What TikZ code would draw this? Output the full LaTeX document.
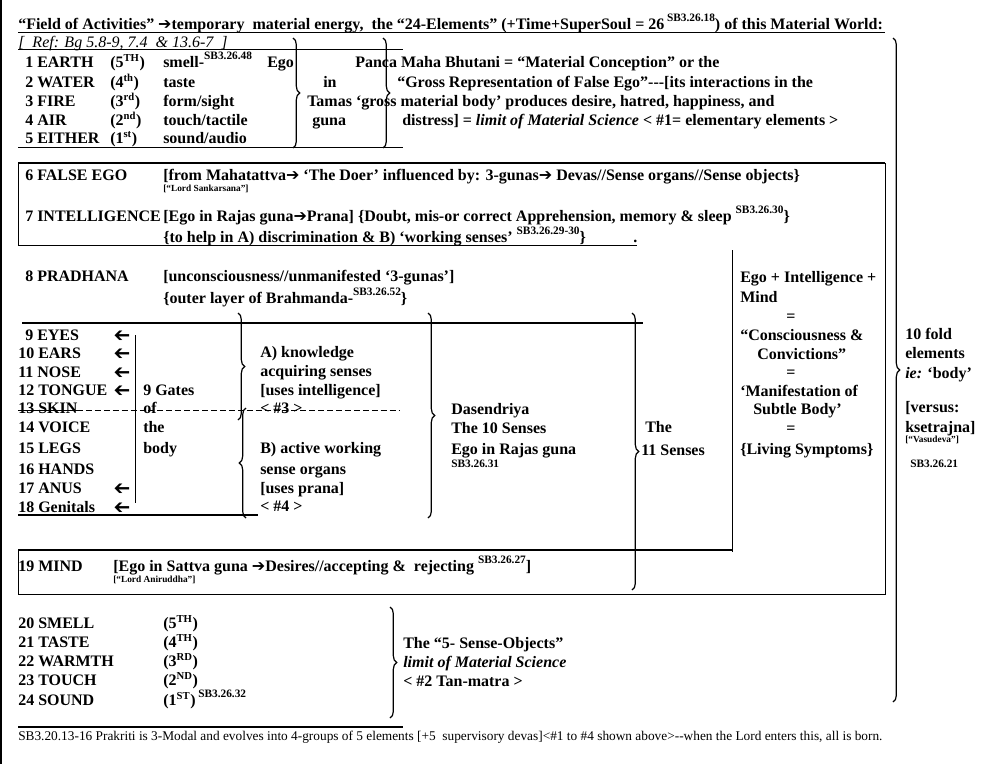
\documentclass[tikz,border=0pt]{standalone}
\usepackage{fontspec}
\setmainfont{Liberation Serif}
\newfontfamily\symfont{DejaVu Sans}
\usetikzlibrary{decorations.pathreplacing}
\newcommand\ar{{\symfont\mdseries ➔}}
\newcommand\sbref[1]{\raisebox{0.5em}{\fontsize{8.5}{9}\selectfont\bfseries #1}}

\tikzset{
  txt/.style={anchor=base west, inner sep=0pt, font=\fontsize{12}{14}\selectfont\bfseries},
  tiny/.style={anchor=base west, inner sep=0pt, font=\fontsize{7}{8}\selectfont\bfseries},
  sbtxt/.style={anchor=base west, inner sep=0pt, font=\fontsize{8.5}{9}\selectfont\bfseries},
  reftxt/.style={anchor=base west, inner sep=0pt, font=\fontsize{12}{14}\selectfont\itshape},
  foot/.style={anchor=base west, inner sep=0pt, font=\fontsize{10}{11}\selectfont},
  larrow/.style={inner sep=0pt, rotate=180, font=\fontsize{15}{16}\selectfont\symfont},
  gbrace/.style={decorate, decoration={brace, amplitude=5pt}, line width=0.9pt},
  rule/.style={line width=0.6pt},
  thickrule/.style={line width=1.4pt}
}

\begin{document}
\begin{tikzpicture}[x=0.75pt, y=-0.75pt]
  \useasboundingbox (0,0) rectangle (983,764);
  \draw[thickrule] (1,0) -- (1,764);

  \node[txt] (title) at (18,29) {“Field of Activities” \ar temporary\ \ material energy,\ \ the “24-Elements” (+Time+SuperSoul = 26\,\sbref{SB3.26.18}) of this Material World:};
  \draw[rule] (18,32) -- (885,32);
  \node[reftxt] (ref) at (18,47) {[\ \ Ref: Bg 5.8-9,\ 7.4\ \ \& 13.6-7\ \ ]};
  \draw[rule] (18,49) -- (403,49);

  \foreach \i/\y/\n/\o/\s in {
      1/67/1 EARTH/(5\textsuperscript{TH})/smell-\sbref{SB3.26.48},
      2/87/2 WATER/(4\textsuperscript{th})/taste,
      3/106/3 FIRE/(3\textsuperscript{rd})/{form/sight},
      4/125/4 AIR/(2\textsuperscript{nd})/{touch/tactile},
      5/143/5 EITHER/(1\textsuperscript{st})/{sound/audio}} {
    \node[txt] (el\i) at (25,\y) {\n};
    \node[txt] (ord\i) at (110,\y) {\o};
    \node[txt] (sen\i) at (163,\y) {\s};
  }
  \draw[rule] (18,147) -- (403,147);
  \node[txt] (ego) at (267,67) {Ego};
  \node[txt] (in) at (323,87) {in};
  \node[txt] (tamas) at (307,106) {Tamas ‘gross material body’ produces desire, hatred, happiness, and};
  \node[txt] (guna) at (312,125) {guna};
  \node[txt] (panca) at (355,67) {Panca Maha Bhutani = “Material Conception” or the};
  \node[txt] (gross) at (397,87) {“Gross Representation of False Ego”-{}-{}-[its interactions in the};
  \node[txt] (distress) at (402,125) {distress] = \textit{limit of Material Science} < \#1= elementary elements >};
  \draw[gbrace] (293,38) -- (293,148);
  \draw[gbrace] (383,38) -- (383,148);
  \draw[gbrace] (893,38) -- (893,702);

  \draw[thickrule] (18,163) -- (885,163);
  \draw[rule] (18,163) -- (18,245) -- (637,245);
  \draw[rule] (885,163) -- (885,594) -- (18,594) -- (18,550);
  \node[txt] (falseego) at (25,180) {6 FALSE EGO};
  \node[txt] (mahat) at (163,180) {[from Mahatattva\ar\ ‘The Doer’ influenced by: 3-gunas\ar\ Devas//Sense organs//Sense objects\}};
  \node[tiny] (sank) at (163,191) {[“Lord Sankarsana”]};
  \node[txt] (intel) at (25,221) {7 INTELLIGENCE};
  \node[txt] (prana) at (163,221) {[Ego in Rajas guna\ar Prana] \{Doubt, mis-or correct Apprehension, memory \& sleep \sbref{SB3.26.30}\}};
  \node[txt] (help) at (163,242) {\{to help in A) discrimination \& B) ‘working senses’ \sbref{SB3.26.29-30}\}};
  \node[txt] (dot) at (633,242) {.};

  \node[txt] (pradh) at (25,281) {8 PRADHANA};
  \node[txt] (uncon) at (163,281) {[unconsciousness//unmanifested ‘3-gunas’]};
  \node[txt] (outer) at (163,303) {\{outer layer of Brahmanda-\sbref{SB3.26.52}\}};

  \draw[rule] (732,250) -- (732,552);
  \node[txt] (eim) at (740,282) {Ego + Intelligence +};
  \node[txt] (mind) at (740,302) {Mind};
  \node[txt] (eq1) at (786,321) {=};
  \node[txt] (consc) at (740,340) {“Consciousness \&};
  \node[txt] (conv) at (757,359) {Convictions”};
  \node[txt] (eq2) at (786,377) {=};
  \node[txt] (manif) at (740,396) {‘Manifestation of};
  \node[txt] (subtle) at (753,414) {Subtle Body’};
  \node[txt] (eq3) at (786,433) {=};
  \node[txt] (living) at (740,454) {\{Living Symptoms\}};

  \node[txt] (tenfold) at (905,339) {10 fold};
  \node[txt] (elems) at (905,358) {elements};
  \node[txt] (body) at (905,378) {\textit{ie:} ‘body’};
  \node[txt] (versus) at (905,412) {[versus:};
  \node[txt] (ksetra) at (905,432) {ksetrajna]};
  \node[tiny] (vasu) at (905,442) {[“Vasudeva”]};
  \node[sbtxt] (sb21) at (910,467) {SB3.26.21};

  \draw[thickrule] (22,323) -- (643,323);
  \foreach \i/\x/\y/\n in {9/25/340/9 EYES, 10/18/358/10 EARS, 11/18/377/11 NOSE,
      12/18/395/12 TONGUE, 13/18/413/13 SKIN, 14/18/432/14 VOICE, 15/18/453/15 LEGS,
      16/18/474/16 HANDS, 17/18/493/17 ANUS, 18/18/512/18 Genitals} {
    \node[txt] (s\i) at (\x,\y) {\n};
  }
  \foreach \i/\y in {9/335, 10/353, 11/372, 12/390, 17/488, 18/507} {
    \node[larrow] (a\i) at (122,\y) {➔};
  }
  \draw[rule] (135,335) -- (135,503);
  \node[txt] (gates) at (143,395) {9 Gates};
  \node[txt] (of) at (143,413) {of};
  \node[txt] (the) at (143,432) {the};
  \node[txt] (bdy) at (143,453) {body};
  \draw[rule] (18,410) -- (77,410);
  \draw[rule, dash pattern=on 4.5pt off 2.2pt] (77,410) -- (400,410);
  \draw[thickrule] (18,515) -- (258,515);

  \draw[gbrace] (238,313) -- (238,420);
  \draw[gbrace, decoration={mirror}] (246,408) -- (246,518);
  \node[txt] (ka) at (260,357) {A) knowledge};
  \node[txt] (kb) at (260,376) {acquiring senses};
  \node[txt] (kc) at (260,395) {[uses intelligence]};
  \node[txt] (kd) at (260,413) {< \#3 >};
  \node[txt] (wa) at (260,453) {B) active working};
  \node[txt] (wb) at (260,474) {sense organs};
  \node[txt] (wc) at (260,493) {[uses prana]};
  \node[txt] (wd) at (260,511) {< \#4 >};

  \draw[gbrace] (428,313) -- (428,518);
  \node[txt] (dasa) at (451,414) {Dasendriya};
  \node[txt] (ten) at (451,433) {The 10 Senses};
  \node[txt] (rajas) at (451,454) {Ego in Rajas guna};
  \node[sbtxt] (sb31) at (451,467) {SB3.26.31};
  \draw[gbrace] (632,313) -- (632,590);
  \node[txt] (the11) at (645,432) {The};
  \node[txt] (eleven) at (641,455) {11 Senses};

  \draw[thickrule] (18,550) -- (732,550);
  \node[txt] (mindrow) at (18,571) {19 MIND};
  \node[txt] (sattva) at (113,571) {[Ego in Sattva guna \ar Desires//accepting \&\ \ rejecting \sbref{SB3.26.27}]};
  \node[tiny] (anir) at (113,582) {[“Lord Aniruddha”]};

  \foreach \i/\y/\n/\d/\o in {20/628/20 SMELL/5/TH, 21/647/21 TASTE/4/TH, 22/666/22 WARMTH/3/RD,
      23/685/23 TOUCH/2/ND, 24/705/24 SOUND/1/ST} {
    \node[txt] (o\i) at (18,\y) {\n};
    \node[txt] (p\i) at (163,\y) {(\d\textsuperscript{\o})};
  }
  \node[sbtxt] (sb32) at (198,697) {SB3.26.32};
  \draw[gbrace] (390,607) -- (390,718);
  \node[txt] (five) at (403,648) {The “5- Sense-Objects”};
  \node[txt] (limit) at (403,667) {\textit{limit of Material Science}};
  \node[txt] (tan) at (403,686) {< \#2 Tan-matra >};

  \draw[thickrule] (18,727) -- (403,727);
  \node[foot] (note) at (18,740) {SB3.20.13-16 Prakriti is 3-Modal and evolves into 4-groups of 5 elements [+5\ \ supervisory devas]<\#1\ to \#4 shown above>-{}-when the Lord enters this, all is born.};
\end{tikzpicture}
\end{document}
